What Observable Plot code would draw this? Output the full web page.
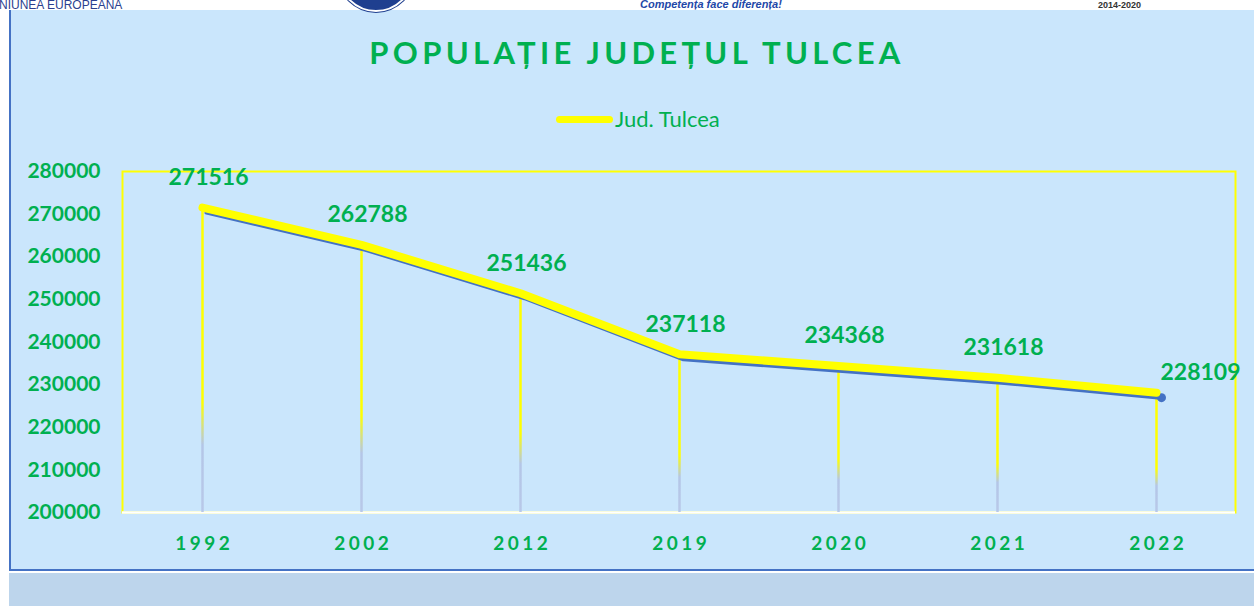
<!DOCTYPE html>
<html>
<head>
<meta charset="utf-8">
<script src="https://cdn.jsdelivr.net/npm/d3@7"></script>
<script src="https://cdn.jsdelivr.net/npm/@observablehq/plot@0.6"></script>
<style>
  html, body { margin: 0; padding: 0; background: #ffffff; width: 1254px; height: 606px; overflow: hidden; font-family: Lato, "Open Sans", sans-serif; }
  .abs { position: absolute; }
  #panel { left: 9px; top: 10px; width: 1245px; height: 561px; background: #CAE6FC; border-left: 2px solid #4472C4; border-bottom: 2px solid #4472C4; box-sizing: border-box; }
  #strip { left: 9px; top: 573px; width: 1245px; height: 33px; background: #BDD5EC; }
  #hdr1 { left: -1px; top: -1px; font-family: "Liberation Sans Narrow", "Arial Narrow", "Liberation Sans", sans-serif; font-size: 12px; line-height: 13px; color: #2B3F8F; white-space: nowrap; }
  #hdr2 { left: 640px; top: -2px; font-family: "Liberation Sans", sans-serif; font-weight: bold; font-style: italic; font-size: 11px; line-height: 12px; color: #2347A8; white-space: nowrap; }
  #hdr3 { left: 1098px; top: 0px; font-family: "Liberation Sans Narrow", "Liberation Sans", sans-serif; font-weight: bold; font-size: 9px; line-height: 10px; color: #333; white-space: nowrap; }
  #logo { left: 338px; top: -64px; width: 72px; height: 72px; border-radius: 50%; background: #1F3F8F; border: 2px solid #ffffff; box-shadow: 0 0 0 1px #1F3F8F; }
  #title { left: 0; width: 1274px; top: 33px; text-align: center; font-weight: bold; font-size: 31px; letter-spacing: 4.3px; color: #00B050; white-space: nowrap; }
  #legline { left: 556px; top: 116px; width: 57px; height: 7px; border-radius: 3.5px; background: #FFFF00; }
  #legtext { left: 615px; top: 105px; font-size: 22px; line-height: 27px; color: #00B050; white-space: nowrap; }
  #chart { left: 0; top: 150px; }
  #chart svg { overflow: visible; }
  #chart g[aria-label^="y-axis"] text { fill: #00B050; font-weight: bold; font-size: 21px; }
  #chart g[aria-label^="x-axis"] text { fill: #00B050; font-weight: bold; font-size: 19px; letter-spacing: 3.5px; }
</style>
</head>
<body>
<div id="panel" class="abs"></div>
<div id="strip" class="abs"></div>
<div id="logo" class="abs"></div>
<div id="hdr1" class="abs">NIUNEA EUROPEANA</div>
<div id="hdr2" class="abs">Competența face diferența!</div>
<div id="hdr3" class="abs">2014-2020</div>
<div id="title" class="abs">POPULAȚIE JUDEȚUL TULCEA</div>
<div id="legline" class="abs"></div>
<div id="legtext" class="abs">Jud. Tulcea</div>
<div id="chart" class="abs"></div>
<script>
// ---- data ----
const years = ["1992", "2002", "2012", "2019", "2020", "2021", "2022"];
const population = [271516, 262788, 251436, 237118, 234368, 231618, 228109];
const yTicks = [200000, 210000, 220000, 230000, 240000, 250000, 260000, 270000, 280000];
const seriesName = "Jud. Tulcea";

const data = years.map((y, i) => ({year: y, value: population[i]}));
const lastIdx = data.length - 1;

const GREEN = "#00B050";
const YELLOW = "#FFFF00";
const BLUE = "#4472C4";

const plot = Plot.plot({
  width: 1254,
  height: 422,
  marginLeft: 122,
  marginRight: 19,
  marginTop: 21,
  marginBottom: 60,
  style: {background: "transparent", fontFamily: "Lato, 'Open Sans', sans-serif", overflow: "visible"},
  x: {type: "point", domain: years, padding: 0.5, tickSize: 0, tickPadding: 24, label: null},
  y: {domain: [yTicks[0], yTicks[yTicks.length - 1]], ticks: yTicks, tickFormat: d => String(d), tickSize: 0, tickPadding: 22, label: null},
  marks: [
    Plot.frame({stroke: YELLOW, strokeWidth: 2}),
    Plot.ruleY([yTicks[0]], {stroke: "#ffffff", strokeWidth: 2.5}),
    Plot.ruleX(data, {x: "year", y1: yTicks[0], y2: "value", stroke: YELLOW, strokeWidth: 2.5}),
    Plot.line(data, {x: "year", y: "value", stroke: BLUE, strokeWidth: 4, dx: 4, dy: 5, strokeLinejoin: "round", strokeLinecap: "round"}),
    Plot.dot([data[lastIdx]], {x: "year", y: "value", r: 4.5, fill: BLUE, dx: 5, dy: 5}),
    Plot.line(data, {x: "year", y: "value", stroke: YELLOW, strokeWidth: 8, strokeLinejoin: "round", strokeLinecap: "round"}),
    Plot.text(data.slice(0, lastIdx), {x: "year", y: "value", text: d => String(d.value), dx: 6, dy: -30, fill: GREEN, fontWeight: "bold", fontSize: 23}),
    Plot.text([data[lastIdx]], {x: "year", y: "value", text: d => String(d.value), textAnchor: "start", dx: 4, dy: -20, fill: GREEN, fontWeight: "bold", fontSize: 23})
  ]
});

document.getElementById("chart").appendChild(plot);

// gradient on the drop lines: yellow at top fading to blue-grey near the axis
const svg = d3.select(plot.tagName.toLowerCase() === "svg" ? plot : plot.querySelector("svg"));
const defs = svg.insert("defs", ":first-child");
const ruleGroups = svg.selectAll('g[aria-label="rule"]').nodes();
const dropGroup = ruleGroups[ruleGroups.length - 1];
if (dropGroup) {
  d3.select(dropGroup).selectAll("line").each(function(_, i) {
    const ln = d3.select(this);
    const a = +ln.attr("y1"), b = +ln.attr("y2");
    const top = Math.min(a, b), bot = Math.max(a, b);
    const id = "dropgrad" + i;
    const g = defs.append("linearGradient").attr("id", id)
      .attr("gradientUnits", "userSpaceOnUse")
      .attr("x1", 0).attr("x2", 0).attr("y1", top).attr("y2", bot);
    g.append("stop").attr("offset", 0).attr("stop-color", YELLOW);
    g.append("stop").attr("offset", 0.64).attr("stop-color", YELLOW);
    g.append("stop").attr("offset", 0.78).attr("stop-color", "#B4C6E7");
    g.append("stop").attr("offset", 1).attr("stop-color", "#B8C8E8");
    ln.attr("stroke", `url(#${id})`);
  });
}
// center letter-spaced x tick labels
svg.selectAll('g[aria-label^="x-axis"] text').attr("dx", "1.75");
</script>
</body>
</html>
